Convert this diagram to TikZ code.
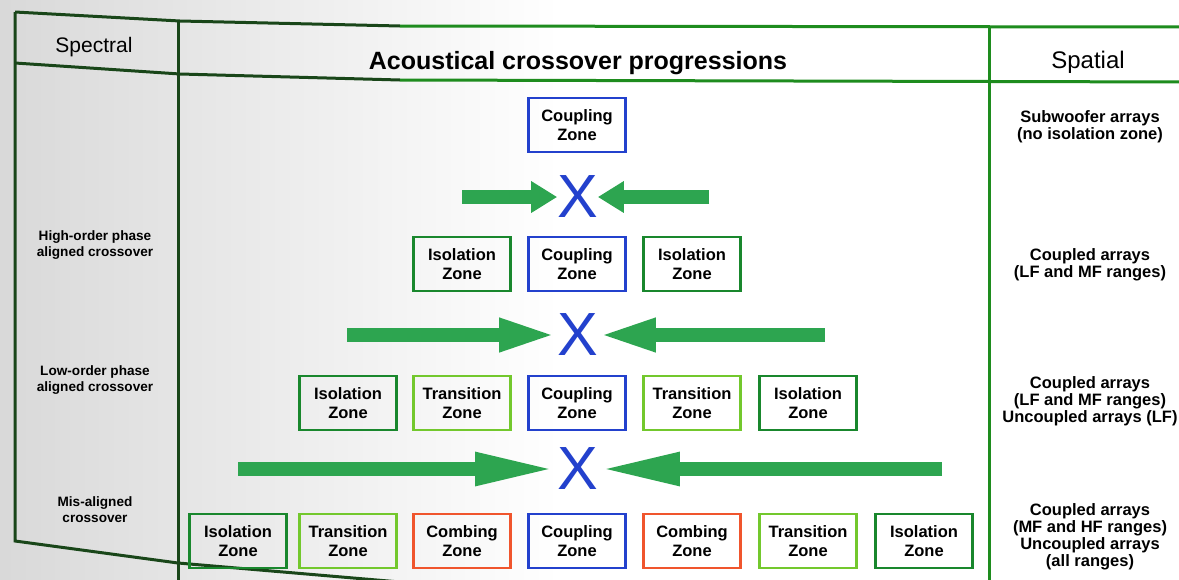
\documentclass[tikz,border=0pt]{standalone}
\usepackage{fontspec}
\setmainfont{Liberation Sans}
\usetikzlibrary{arrows.meta}

\definecolor{tablegreen}{RGB}{30,140,30}
\definecolor{tabledark}{RGB}{25,70,25}
\definecolor{isogreen}{RGB}{25,135,45}
\definecolor{transgreen}{RGB}{115,200,45}
\definecolor{coupblue}{RGB}{35,65,205}
\definecolor{combred}{RGB}{240,85,45}
\definecolor{pushgreen}{RGB}{45,165,80}

\begin{document}
\begin{tikzpicture}[
    x=1pt,
    y=-1pt,
    zone/.style={draw, line width=2.4pt, minimum width=97pt, minimum height=54pt,
        inner sep=0pt, align=center, font=\fontsize{16.5pt}{19.5pt}\selectfont\bfseries},
    isozone/.style={zone, draw=isogreen},
    transzone/.style={zone, draw=transgreen},
    coupzone/.style={zone, draw=coupblue},
    combzone/.style={zone, draw=combred},
    cross/.style={inner sep=0pt, outer sep=0pt, text=coupblue, font=\fontsize{61pt}{61pt}\selectfont},
    push/.style={draw=pushgreen, line width=14pt, -{Triangle[length=#1, width=30pt]}},
    rowlabel/.style={align=center, font=\fontsize{13.6pt}{16pt}\selectfont\bfseries},
    spatlabel/.style={align=center, font=\fontsize{16.5pt}{17pt}\selectfont\bfseries}
]

% 1. Page background (shadow on the left)
\useasboundingbox (0,0) rectangle (1179,579);
\fill[white] (0,0) rectangle (1179,579);
\shade[left color=black!15, right color=white] (0,0) rectangle (560,579);

% 2. Table frame
\draw[line width=3pt, draw=tabledark] (15,12) -- (180,21) -- (400,26);
\draw[line width=3pt, draw=tablegreen] (400,26) -- (1190,27);
\draw[line width=3pt, draw=tabledark] (15,63) -- (180,74) -- (400,80);
\draw[line width=3pt, draw=tablegreen] (400,80) -- (1190,82);
\draw[line width=3pt, draw=tabledark] (15,12) -- (15,541) -- (178,563) -- (400,582);
\draw[line width=3pt, draw=tabledark] (178,20) -- (178,590);
\draw[line width=3pt, draw=tablegreen] (989,27) -- (989,590);

% 3. Column headers
\node[font=\fontsize{21pt}{24pt}\selectfont] (spectral) at (94,47) {Spectral};
\node[font=\fontsize{25pt}{30pt}\selectfont\bfseries] (title) at (578,63) {Acoustical crossover progressions};
\node[font=\fontsize{24pt}{28pt}\selectfont] (spatial) at (1088,62) {Spatial};

% 4. Spectral column
\node[rowlabel] (highorder) at (95,245) {High-order phase\\aligned crossover};
\node[rowlabel] (loworder) at (95,380) {Low-order phase\\aligned crossover};
\node[rowlabel] (misaligned) at (95,510) {Mis-aligned\\crossover};

% 5. Spatial column
\node[spatlabel] (subwoofer) at (1090,127) {Subwoofer arrays\\(no isolation zone)};
\node[spatlabel] (coupledA) at (1090,265) {Coupled arrays\\(LF and MF ranges)};
\node[spatlabel] (coupledB) at (1090,401) {Coupled arrays\\(LF and MF ranges)\\Uncoupled arrays (LF)};
\node[spatlabel] (coupledC) at (1090,537) {Coupled arrays\\(MF and HF ranges)\\Uncoupled arrays\\(all ranges)};

% 6. Zone rows
% Row 1: coupling only
\node[coupzone] (coup1) at (577,125) {Coupling\\Zone};

% Row 2: isolation / coupling / isolation
\foreach \name/\x/\kind/\word in {isoL2/462/isozone/Isolation, coup2/577/coupzone/Coupling,
    isoR2/692/isozone/Isolation}
    \node[\kind] (\name) at (\x,264) {\word\\Zone};

% Row 3: transition zones added
\foreach \name/\x/\kind/\word in {isoL3/348/isozone/Isolation, transL3/462/transzone/Transition,
    coup3/577/coupzone/Coupling, transR3/692/transzone/Transition, isoR3/808/isozone/Isolation}
    \node[\kind] (\name) at (\x,403) {\word\\Zone};

% Row 4: combing zones added
\foreach \name/\x/\kind/\word in {isoL4/238/isozone/Isolation, transL4/348/transzone/Transition,
    combL4/462/combzone/Combing, coup4/577/coupzone/Coupling, combR4/692/combzone/Combing,
    transR4/808/transzone/Transition, isoR4/924/isozone/Isolation}
    \node[\kind] (\name) at (\x,541) {\word\\Zone};

% 7. Crossover marks and converging arrows
\node[cross] (xA) at (577.5,197) {X};
\node[cross] (xB) at (577.5,335) {X};
\node[cross] (xC) at (577.5,469) {X};

\coordinate (pushLA) at (462,197);
\coordinate (pushRA) at (709,197);
\coordinate (pushLB) at (347,335);
\coordinate (pushRB) at (825,335);
\coordinate (pushLC) at (238,469);
\coordinate (pushRC) at (942,469);

\draw[push=26pt] (pushLA) -- (xA.west);
\draw[push=26pt] (pushRA) -- (xA.east);
\draw[push=58pt] (pushLB) -- (xB.west);
\draw[push=58pt] (pushRB) -- (xB.east);
\draw[push=82pt] (pushLC) -- (xC.west);
\draw[push=82pt] (pushRC) -- (xC.east);

\end{tikzpicture}
\end{document}
